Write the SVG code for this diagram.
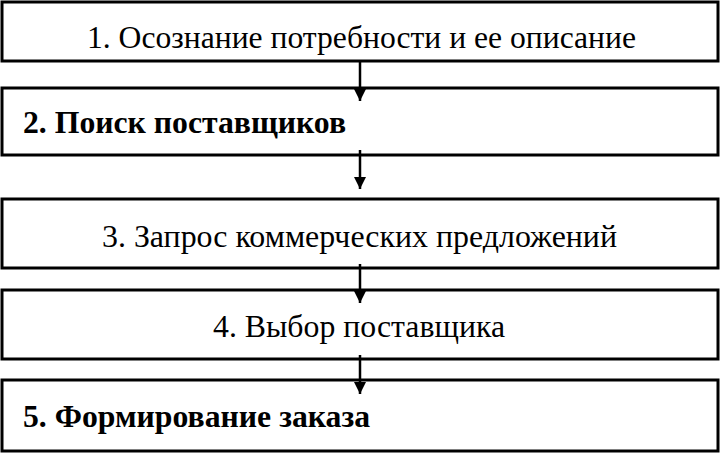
<svg xmlns="http://www.w3.org/2000/svg" width="720" height="453" viewBox="0 0 720 453">
<style>
.b{fill:#fff;stroke:#000;stroke-width:3}
.t{font-family:"Liberation Serif","Times New Roman",serif;font-size:32px;fill:#000}
.bd{font-weight:bold}
.c{stroke:#000;stroke-width:2.5;fill:none}
</style>
<defs><marker id="a" markerWidth="14" markerHeight="14" refX="12" refY="6" orient="auto" markerUnits="userSpaceOnUse"><path d="M0,0 L12,6 L0,12 Z" fill="#000"/></marker></defs>
<rect width="720" height="453" fill="#fff"/>
<g id="n1"><rect class="b" x="2" y="2" width="716" height="59"/><text class="t" x="87" y="48" textLength="549" lengthAdjust="spacingAndGlyphs">1. Осознание потребности и ее описание</text></g>
<g id="n2"><rect class="b" x="2" y="88" width="716" height="67"/><text class="t bd" x="23" y="133" textLength="323" lengthAdjust="spacingAndGlyphs">2. Поиск поставщиков</text></g>
<g id="n3"><rect class="b" x="2" y="199" width="716" height="69"/><text class="t" x="102" y="247" textLength="515" lengthAdjust="spacingAndGlyphs">3. Запрос коммерческих предложений</text></g>
<g id="n4"><rect class="b" x="2" y="290" width="716" height="69"/><text class="t" x="213" y="337" textLength="292" lengthAdjust="spacingAndGlyphs">4. Выбор поставщика</text></g>
<g id="n5"><rect class="b" x="2" y="380" width="716" height="71"/><text class="t bd" x="23" y="427" textLength="347" lengthAdjust="spacingAndGlyphs">5. Формирование заказа</text></g>
<g id="connectors">
<line class="c" x1="360" y1="62" x2="360" y2="101" marker-end="url(#a)"/>
<line class="c" x1="360" y1="150" x2="360" y2="189" marker-end="url(#a)"/>
<line class="c" x1="360" y1="264" x2="360" y2="303" marker-end="url(#a)"/>
<line class="c" x1="360" y1="355" x2="360" y2="394" marker-end="url(#a)"/>
</g>
</svg>
